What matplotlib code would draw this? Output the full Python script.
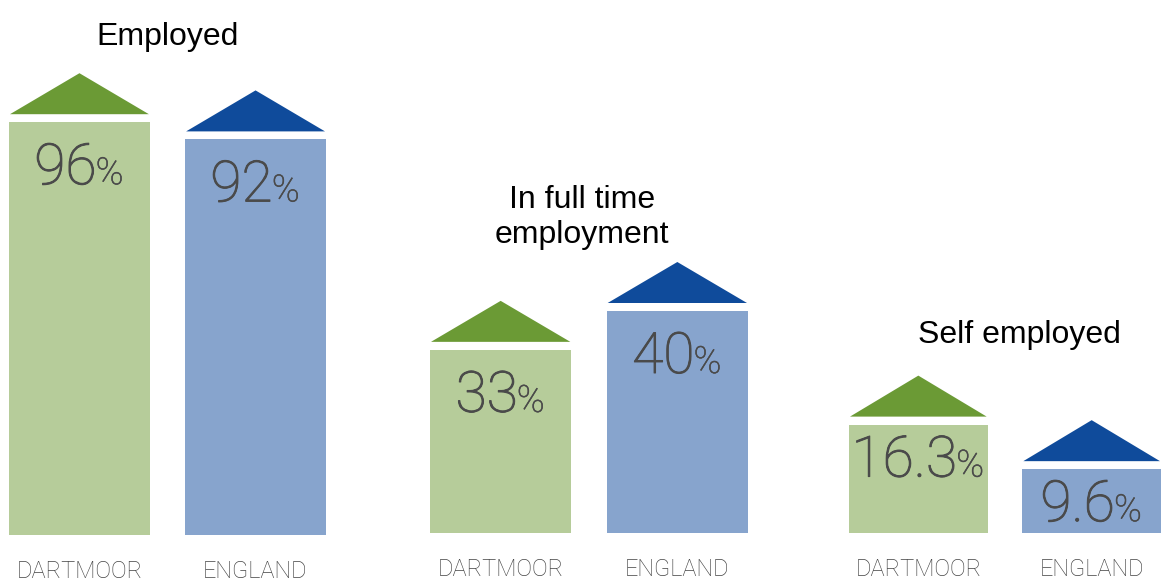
import matplotlib
matplotlib.use("Agg")
import matplotlib.pyplot as plt
from matplotlib import transforms
from matplotlib import patheffects
from matplotlib.patches import Polygon

# ---- data ----
groups = ["Employed", "In full time\nemployment", "Self employed"]
areas = ["DARTMOOR", "ENGLAND"]
dartmoor = [96, 33, 16.3]
england = [92, 40, 9.6]
dartmoor_labels = ["96", "33", "16.3"]
england_labels = ["92", "40", "9.6"]

# ---- style ----
LIGHT = ["#b6cc9a", "#87a4cd"]
DARK = ["#6b9a35", "#0f4b9b"]
TXT = "#4a4a4a"
TITLE_FONT = ["Liberation Sans", "DejaVu Sans"]
THIN_FONT = ["Roboto", "DejaVu Sans"]
thicken = [patheffects.withStroke(linewidth=0.7, foreground=TXT)]

W, H, DPI = 1168, 586, 100
fig = plt.figure(figsize=(W / DPI, H / DPI), dpi=DPI)
fig.patch.set_facecolor("white")

# per-group panel layout in pixels: left, right, baseline, pixels per unit,
# value-label baseline distance below bar top
layout = [(9, 326, 535, 4.30, 62), (430, 748, 533, 5.55, 62),
          (849, 1161, 533, 6.65, 52)]
# title anchor (center x, first-line baseline y) in pixels
title_pos = [(168, 45), (582, 208), (1019, 343)]

renderer = fig.canvas.get_renderer()

for g, (left, right, base, ppu, voff) in enumerate(layout):
    hpx = 480
    ax = fig.add_axes([left / W, (H - base) / H, (right - left) / W, hpx / H])
    ax.set_xlim(-0.4, 1.4)
    ax.set_ylim(0, hpx / ppu)
    ax.axis("off")
    vals = [dartmoor[g], england[g]]
    labs = [dartmoor_labels[g], england_labels[g]]
    xs = [0, 1]
    ax.bar(xs, vals, width=0.8, color=LIGHT, linewidth=0)

    inv = ax.transData.inverted()
    for i, (x, v) in enumerate(zip(xs, vals)):
        # roof triangle above each bar
        x0, top = ax.transData.transform((x - 0.4, v))
        x1, _ = ax.transData.transform((x + 0.4, v))
        pts = [(x0 + 1, top + 8), (x1 - 1, top + 8), ((x0 + x1) / 2, top + 49)]
        dpts = inv.transform(pts)
        ax.add_patch(Polygon(dpts, closed=True, facecolor=DARK[i],
                             edgecolor="none", clip_on=False))

        # value label: number + smaller percent sign, centred as a unit
        tn = ax.text(x, v, labs[i], fontsize=41, color=TXT, family=THIN_FONT,
                     fontweight="light", ha="left", va="baseline",
                     path_effects=thicken)
        tp = ax.text(x, v, "%", fontsize=27, color=TXT, family=THIN_FONT,
                     fontweight="light", ha="left", va="baseline",
                     path_effects=[patheffects.withStroke(linewidth=0.4,
                                                          foreground=TXT)])
        wn = tn.get_window_extent(renderer).width
        wp = tp.get_window_extent(renderer).width
        tot = wn + wp
        tn.set_transform(transforms.offset_copy(ax.transData, fig, x=-tot / 2,
                                                y=-voff, units="dots"))
        tp.set_transform(transforms.offset_copy(ax.transData, fig,
                                                x=-tot / 2 + wn - 1,
                                                y=-voff, units="dots"))

        # category label under the bar
        ax.text(x, 0, areas[i], fontsize=17, color="#444444", family=THIN_FONT,
                fontweight="light", ha="center", va="baseline",
                transform=transforms.offset_copy(ax.get_xaxis_transform(), fig,
                                                 y=-43, units="dots"))

    # group title
    tx, ty = title_pos[g]
    for k, line in enumerate(groups[g].split("\n")):
        fig.text(tx / W, 1 - (ty + 35 * k) / H, line, fontsize=23,
                 color="black", family=TITLE_FONT, ha="center", va="baseline")

fig.savefig("out.png", dpi=DPI, facecolor="white")
